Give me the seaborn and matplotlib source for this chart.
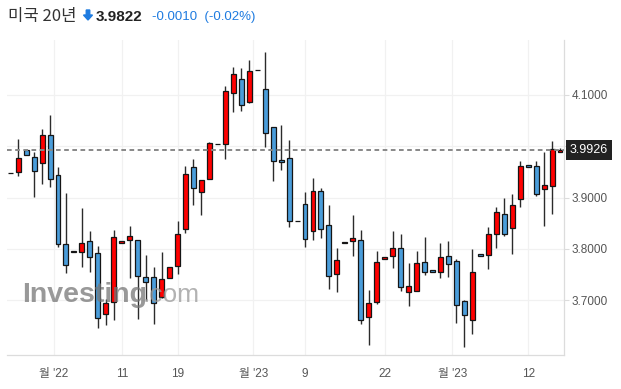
import numpy as np
import matplotlib
matplotlib.use('Agg')
import matplotlib.pyplot as plt
import matplotlib.transforms as mtransforms
from matplotlib.patches import FancyArrow
import seaborn as sns

# OHLC values (one candle per period)
opens = [3.9472, 3.9503, 3.9921, 3.9784, 3.9667, 4.0214, 3.9445, 3.8099, 3.7962, 3.7931,
         3.8157, 3.7911, 3.6721, 3.6955, 3.8106, 3.8165, 3.8165, 3.7443, 3.7449, 3.7053,
         3.7429, 3.7663, 3.8385, 3.9589, 3.9101, 3.9355, 4.0038, 4.0038, 4.1033, 4.1306,
         4.0858, 4.1482, 4.1111, 4.0381, 3.9726, 3.9765, 3.8536, 3.8867, 3.8341, 3.9121,
         3.8458, 3.7501, 3.8106, 3.8145, 3.8165, 3.6662, 3.6967, 3.7794, 3.7853, 3.8009,
         3.7150, 3.7170, 3.7736, 3.7579, 3.7541, 3.7853, 3.7755, 3.6975, 3.6604, 3.7892,
         3.7872, 3.8282, 3.8672, 3.8399, 3.8965, 3.9628, 3.9609, 3.9160, 3.9219, 3.9886]
highs = [3.9472, 4.0136, 3.9921, 3.9894, 4.0331, 4.0610, 3.9601, 3.9094, 3.7962, 3.8789,
         3.8346, 3.8054, 3.7020, 3.8366, 3.8157, 3.8450, 3.8165, 3.7872, 3.7638, 3.7942,
         3.7638, 3.8541, 3.9615, 3.9745, 3.9332, 4.0089, 4.0038, 4.1176, 4.1540, 4.1521,
         4.1683, 4.1482, 4.1845, 4.0381, 4.0415, 4.0122, 3.8536, 3.9101, 3.9375, 3.9180,
         3.8848, 3.8009, 3.8138, 3.8653, 3.8366, 3.7189, 3.7956, 3.7833, 3.8341, 3.8282,
         3.7716, 3.7956, 3.8229, 3.7579, 3.8112, 3.8151, 3.7800, 3.7000, 3.7995, 3.7892,
         3.8419, 3.8809, 3.8996, 3.9062, 3.9712, 3.9628, 3.9712, 3.9882, 4.0097, 3.9962]
lows = [3.9472, 3.9419, 3.9823, 3.9016, 3.9258, 3.9199, 3.8028, 3.7521, 3.7931, 3.7650,
        3.7541, 3.6448, 3.6512, 3.6610, 3.8106, 3.7423, 3.6623, 3.7000, 3.6532, 3.7033,
        3.7429, 3.7507, 3.8301, 3.8854, 3.8659, 3.9355, 4.0038, 3.9745, 4.0662, 4.0694,
        4.0838, 4.1482, 3.9980, 3.9316, 3.9537, 3.8430, 3.8536, 3.8028, 3.8171, 3.8204,
        3.7209, 3.7150, 3.8106, 3.7853, 3.6526, 3.6122, 3.6916, 3.7794, 3.7618, 3.7181,
        3.6889, 3.7170, 3.7494, 3.7541, 3.7423, 3.7443, 3.6545, 3.6077, 3.6331, 3.7853,
        3.7599, 3.8009, 3.8255, 3.7898, 3.8809, 3.9589, 3.9035, 3.8450, 3.8672, 3.9886]
closes = [3.9472, 3.9765, 3.9823, 3.9511, 4.0214, 3.9355, 3.8087, 3.7683, 3.7931, 3.8118,
          3.7833, 3.6643, 3.6936, 3.8235, 3.8157, 3.8243, 3.7468, 3.7345, 3.6936, 3.7416,
          3.7638, 3.8282, 3.9453, 3.9191, 3.9332, 4.0058, 4.0038, 4.1084, 4.1404, 4.0799,
          4.1474, 4.1482, 4.0253, 3.9706, 3.9687, 3.8536, 3.8536, 3.8184, 3.9133, 3.8380,
          3.7462, 3.7775, 3.8138, 3.8204, 3.6604, 3.6936, 3.7736, 3.7833, 3.8009, 3.7248,
          3.7273, 3.7716, 3.7541, 3.7541, 3.7833, 3.7697, 3.6897, 3.6701, 3.7541, 3.7853,
          3.8282, 3.8711, 3.8294, 3.8848, 3.9609, 3.9589, 3.9062, 3.9238, 3.9940, 3.9926]

tick_pos = [5.5, 14, 21, 30.5, 37, 47, 55.5, 65]
tick_labels = ["월 '22", "11", "19", "월 '23", "9", "22", "월 '23", "12"]
y_ticks = [3.7, 3.8, 3.9, 4.0, 4.1]
last_price = 3.9926

sns.set_style('white')
plt.rcParams['font.family'] = ['Liberation Sans', 'Noto Sans CJK KR']

fig = plt.figure(figsize=(6.21, 3.89), dpi=100)
ax = fig.add_axes([7 / 621, 1 - 355 / 389, 557 / 621, 315 / 389])

o = np.array(opens)
c = np.array(closes)
x = np.arange(len(o))
up = c > o
colors = np.where(up, '#ff0000', np.where(c < o, '#4a9dda', '#333333'))

ax.vlines(x, lows, highs, color='#2b2b2b', linewidth=1.0, zorder=2)
ax.bar(x, np.abs(c - o), bottom=np.minimum(o, c), width=0.62, color=colors,
       edgecolor='#151515', linewidth=0.9, zorder=3)

ax.axhline(last_price, color='#888888', linewidth=1.4, linestyle=(0, (2.4, 1.8)), zorder=4)

ax.set_xlim(-0.4, 69.5)
ax.set_ylim(3.5927, 4.2073)

ax.yaxis.tick_right()
ax.set_yticks(y_ticks)
ax.set_yticklabels([f'{v:.4f}' if abs(v - 4.0) > 1e-9 else '' for v in y_ticks])
ax.set_xticks(tick_pos)
ax.set_xticklabels(tick_labels)
ax.tick_params(axis='both', colors='#dcdcdc', labelcolor='#555555', labelsize=8.5,
               length=3.5, width=0.8, pad=2)
ax.tick_params(axis='x', pad=6)
ax.grid(True, color='#f1f1f1', linewidth=0.9)
ax.set_axisbelow(True)
for side in ['left', 'top']:
    ax.spines[side].set_visible(False)
for side in ['right', 'bottom']:
    ax.spines[side].set_color('#dcdcdc')
    ax.spines[side].set_linewidth(0.9)

# last price box on the right axis
trans = mtransforms.blended_transform_factory(ax.transAxes, ax.transData)
ax.text(1 + 6 / 557, last_price, f'{last_price:.4f}', transform=trans, ha='left', va='center',
        fontsize=9, color='white', clip_on=False,
        bbox=dict(boxstyle='square,pad=0.3', facecolor='#222222', edgecolor='none'))

# watermark
fig.text(22 / 621, 1 - 301.5 / 389, 'Investing', fontsize=20.5, fontweight='bold',
         color='#777777', alpha=0.75, va='baseline', ha='left', zorder=10)
fig.text(143 / 621, 1 - 301.5 / 389, '.com', fontsize=19, color='#999999',
         alpha=0.75, va='baseline', ha='left', zorder=10)

# header
fig.text(8 / 621, 1 - 17 / 389, '미국 20년', fontsize=12, color='#333333',
         va='center', ha='left', family=['Noto Sans CJK KR', 'DejaVu Sans'])
fig.patches.append(FancyArrow(88 / 621, 1 - 10 / 389, 0, -10 / 389, width=3.5 / 621,
                              head_width=9 / 621, head_length=5 / 389,
                              length_includes_head=True, color='#1e7be0',
                              transform=fig.transFigure, figure=fig))
fig.text(96 / 621, 1 - 17 / 389, '3.9822', fontsize=11, fontweight='bold',
         color='#222222', va='center', ha='left')
fig.text(152 / 621, 1 - 17 / 389, '-0.0010  (-0.02%)', fontsize=9.5, color='#1e7be0',
         va='center', ha='left')

fig.savefig('out.png', dpi=100)
